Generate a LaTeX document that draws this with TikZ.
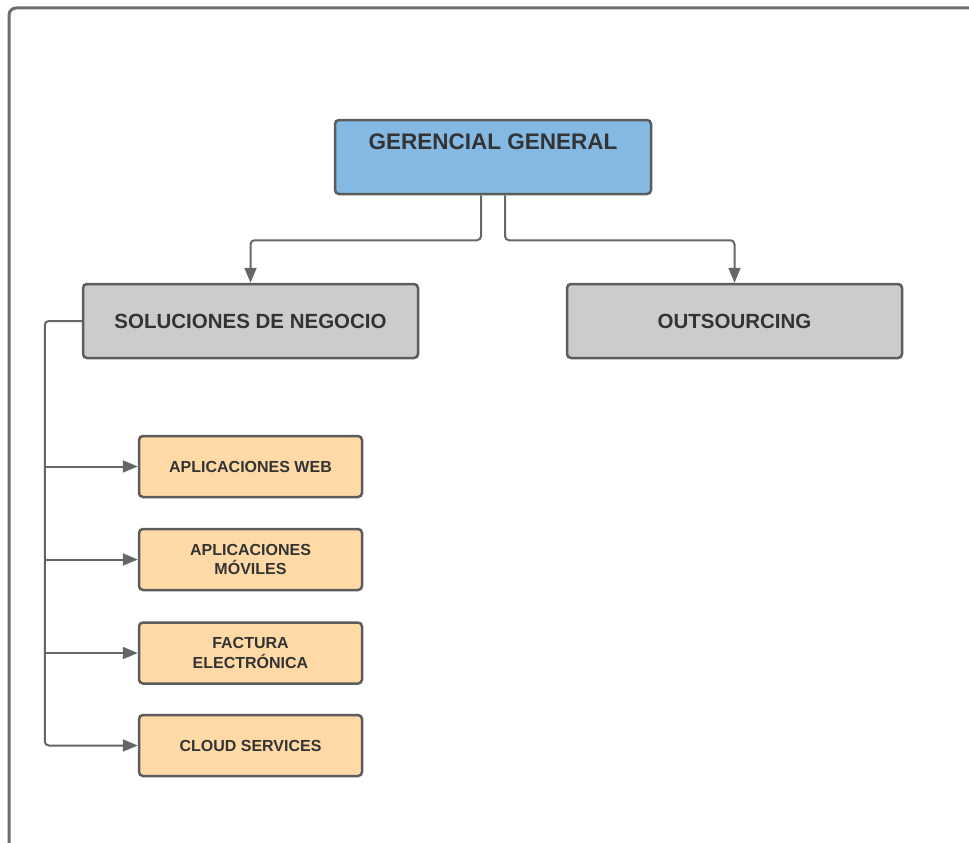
\documentclass[tikz,border=0pt]{standalone}
\usepackage{fontspec}
\setmainfont{Liberation Sans}
\usetikzlibrary{arrows.meta}
\definecolor{edgegray}{HTML}{5C5C5C}
\definecolor{linegray}{HTML}{666666}
\definecolor{framegray}{HTML}{6E6E6E}
\definecolor{txt}{HTML}{333333}
\definecolor{topblue}{HTML}{83B9E3}
\definecolor{midgray}{HTML}{CCCCCC}
\definecolor{leaforange}{HTML}{FFDAA6}
\tikzset{
  box/.style={draw=edgegray, line width=2.5pt, rounded corners=4pt, inner sep=0pt,
    text=txt, font=\bfseries, align=center},
  topbox/.style={box, fill=topblue, minimum width=316pt, minimum height=74pt},
  midbox/.style={box, fill=midgray, minimum width=335pt, minimum height=74pt,
    font=\fontsize{20.5}{24}\selectfont\bfseries},
  leafbox/.style={box, fill=leaforange, minimum width=223pt, minimum height=61pt,
    font=\fontsize{16}{19.5}\selectfont\bfseries},
  conn/.style={draw=linegray, line width=2pt, rounded corners=4pt},
  arr/.style={-{Triangle[length=15pt,width=12pt]}}
}
\begin{document}
\begin{tikzpicture}[x=1pt,y=-1pt]
  \useasboundingbox (0,0) rectangle (969,843);
  \clip (0,0) rectangle (969,843);
  % outer frame, running past the right and bottom edges
  \draw[framegray, line width=3pt, rounded corners=7pt] (9,900) -- (9,8) -- (1000,8);

  % boxes
  \node[topbox] (gg) at (493,157) {};
  \node[text=txt, font=\fontsize{22.5}{26}\selectfont\bfseries] (ggtext) at (493,142) {GERENCIAL GENERAL};
  \node[midbox] (sol) at (250.5,321) {SOLUCIONES DE NEGOCIO};
  \node[midbox] (out) at (734.5,321) {OUTSOURCING};
  \node[leafbox] (web) at (250.5,466.5) {APLICACIONES WEB};
  \node[leafbox] (mov) at (250.5,559.5) {APLICACIONES\\MÓVILES};
  \node[leafbox] (fac) at (250.5,653) {FACTURA\\ELECTRÓNICA};
  \node[leafbox] (cld) at (250.5,745.5) {CLOUD SERVICES};

  % connectors from the top box
  \draw[conn, arr] ([xshift=-12pt]gg.south) -- ++(0,45) -| (sol.north);
  \draw[conn, arr] ([xshift=12pt]gg.south) -- ++(0,45) -| (out.north);

  % trunk from the left box down to the leaf boxes
  \coordinate (tr) at ([xshift=-37pt]sol.west);
  \draw[conn, arr] (sol.west) -- (tr) |- (cld.west);
  \draw[conn, arr] (tr |- web.west) -- (web.west);
  \draw[conn, arr] (tr |- mov.west) -- (mov.west);
  \draw[conn, arr] (tr |- fac.west) -- (fac.west);
\end{tikzpicture}
\end{document}
